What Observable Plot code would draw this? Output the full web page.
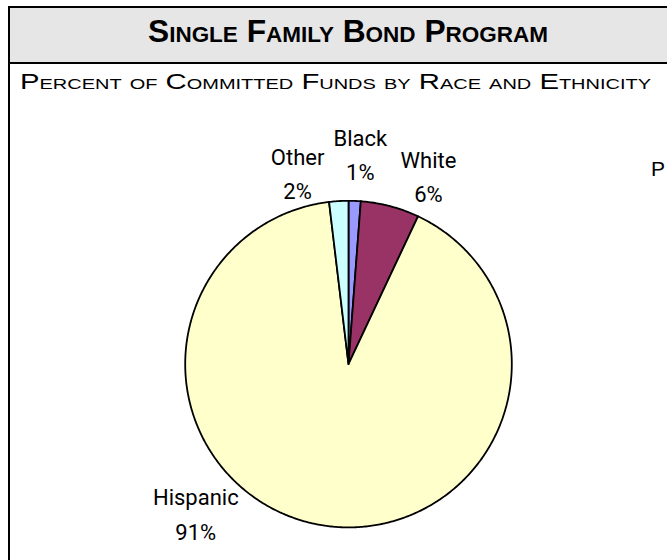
<!DOCTYPE html>
<html><head><meta charset="utf-8">
<script src="https://cdn.jsdelivr.net/npm/d3@7"></script>
<script src="https://cdn.jsdelivr.net/npm/@observablehq/plot@0.6"></script>
<style>
body{margin:0;background:#fff;}
#wrap{position:relative;width:667px;height:560px;overflow:hidden;background:#fff;}
#header{position:absolute;left:8px;top:6px;width:700px;height:58px;box-sizing:border-box;border:2px solid #000;border-right:none;background:#e6e6e6;}
#leftrule{position:absolute;left:8px;top:6px;width:2px;height:560px;background:#000;}
.t{position:absolute;white-space:nowrap;line-height:1;transform-origin:0 0;color:#000;}
#title{font-family:"Liberation Sans",sans-serif;font-weight:bold;font-variant:small-caps;font-size:31px;}
#subtitle{font-family:"Liberation Sans",sans-serif;font-variant:small-caps;font-size:22px;}
#stray{font-family:"Liberation Sans",sans-serif;font-size:21px;}
#plot{position:absolute;left:0;top:64px;}
</style></head>
<body>
<div id="wrap">
  <div id="header"></div>
  <div id="leftrule"></div>
  <div class="t" id="title" data-x="148" data-w="400" data-b="42">Single Family Bond Program</div>
  <div class="t" id="subtitle" data-x="20" data-w="631" data-b="90">Percent of Committed Funds by Race and Ethnicity</div>
  <div class="t" id="stray" data-x="651" data-b="176">P</div>
  <div id="plot"></div>
</div>
<script>
// ---- data ----
const categories = ["Black", "White", "Hispanic", "Other"];
const shares = [1.2, 5.8, 91.1, 1.9];
const percentLabels = ["1%", "6%", "91%", "2%"];
const sliceColors = ["#9999ff", "#993366", "#ffffcc", "#ccffff"];
// label placement (polar: degrees clockwise from 12 o'clock, radius in pie radii)
const labelAngles = [3.2, 22.8, 226.0, 345.2];
const labelRadii = [1.300, 1.263, 1.300, 1.220];

// ---- header text fitting ----
document.querySelectorAll(".t").forEach(el => {
  const fs = parseFloat(getComputedStyle(el).fontSize);
  el.style.left = el.dataset.x + "px";
  el.style.top = (+el.dataset.b - 0.8465 * fs) + "px";
  if (el.dataset.w) {
    const w = el.getBoundingClientRect().width;
    el.style.transform = `scaleX(${(+el.dataset.w / w).toFixed(4)})`;
  }
});

// ---- pie geometry from data ----
const arcs = d3.pie().sort(null).value(d => d)(shares);
const pts = [];
arcs.forEach((a, i) => {
  const cat = categories[i];
  const n = Math.max(2, Math.ceil((a.endAngle - a.startAngle) / 0.01));
  pts.push({cat, x: 0, y: 0});
  for (let k = 0; k <= n; k++) {
    const t = a.startAngle + (a.endAngle - a.startAngle) * k / n;
    pts.push({cat, x: Math.sin(t), y: Math.cos(t)});
  }
  pts.push({cat, x: 0, y: 0});
});
const labels = categories.map((c, i) => {
  const t = labelAngles[i] * Math.PI / 180;
  return {cat: c, text: c + "\n" + percentLabels[i], x: labelRadii[i] * Math.sin(t), y: labelRadii[i] * Math.cos(t)};
});

const R = 163.3, cx = 348, cy = 299.6;
const chart = Plot.plot({
  width: 667,
  height: 496,
  margin: 0,
  x: {domain: [-1, 1], range: [cx - R, cx + R], axis: null},
  y: {domain: [-1, 1], range: [cy + R, cy - R], axis: null},
  color: {domain: categories, range: sliceColors},
  style: {background: "transparent"},
  marks: [
    Plot.line(pts, {x: "x", y: "y", z: "cat", fill: "cat", stroke: "#000", strokeWidth: 1.8, strokeLinejoin: "round", curve: "linear"}),
    Plot.text(labels, {x: "x", y: "y", text: "text", fontSize: 22, lineHeight: 1.55, fontFamily: "Roboto, 'Liberation Sans', sans-serif", fill: "#000", textAnchor: "middle"})
  ]
});
document.getElementById("plot").appendChild(chart);
</script>
</body></html>
